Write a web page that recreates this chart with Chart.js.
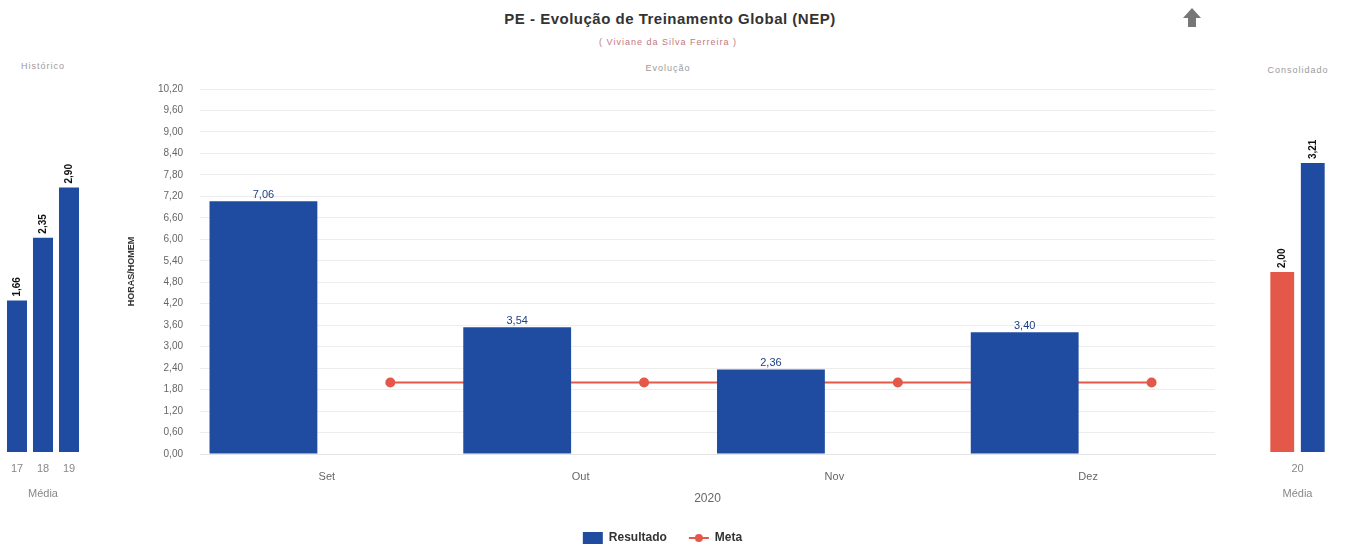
<!DOCTYPE html>
<html>
<head>
<meta charset="utf-8">
<script src="https://cdn.jsdelivr.net/npm/chart.js@4"></script>
<style>
  body { margin: 0; background: #fff; font-family: "Liberation Sans", Arial, sans-serif; }
  #page { position: relative; width: 1345px; height: 547px; overflow: hidden; }
  canvas { position: absolute; }
  .txt { position: absolute; transform: translate(-50%, -50%); white-space: nowrap; }
  #titulo { left: 670px; top: 18px; font-size: 15px; font-weight: bold; color: #333; letter-spacing: 0.5px; }
  #subtitulo { left: 668px; top: 42px; font-size: 9px; color: #c07880; letter-spacing: 1px; }
  .painel { font-size: 9px; color: #9a9a9a; letter-spacing: 1px; }
  #seta { position: absolute; left: 1183px; top: 8px; width: 18px; height: 20px; }
  #seta .ponta { width: 0; height: 0; border-left: 9px solid transparent; border-right: 9px solid transparent; border-bottom: 10px solid #777; }
  #seta .haste { margin-left: 5px; width: 8px; height: 9px; background: #777; }
</style>
</head>
<body>
<div id="page">
  <div class="txt" id="titulo">PE - Evolução de Treinamento Global (NEP)</div>
  <div class="txt" id="subtitulo">( Viviane da Silva Ferreira )</div>
  <div id="seta"><div class="ponta"></div><div class="haste"></div></div>
  <div class="txt painel" style="left:43px; top:66px;">Histórico</div>
  <div class="txt painel" style="left:668px; top:68px;">Evolução</div>
  <div class="txt painel" style="left:1298px; top:70px;">Consolidado</div>
  <canvas id="historico" width="90" height="405" style="left:0; top:100px;"></canvas>
  <canvas id="evolucao" width="1120" height="488" style="left:110px; top:66px;"></canvas>
  <canvas id="consolidado" width="100" height="405" style="left:1245px; top:100px;"></canvas>
</div>
<script>
// dados
const anosHistorico = ['17', '18', '19'];
const mediaHistorico = [1.66, 2.35, 2.90];

const meses = ['Set', 'Out', 'Nov', 'Dez'];
const resultado = [7.06, 3.54, 2.36, 3.40];
const meta = [2.00, 2.00, 2.00, 2.00];
const yTicks = [0, 0.6, 1.2, 1.8, 2.4, 3.0, 3.6, 4.2, 4.8, 5.4, 6.0, 6.6, 7.2, 7.8, 8.4, 9.0, 9.6, 10.2];

const anoConsolidado = ['20'];
const metaConsolidado = [2.00];
const resultadoConsolidado = [3.21];

const AZUL = 'rgb(31, 76, 160)';
const VERMELHO = 'rgb(228, 88, 74)';
const fonte = '"Liberation Sans", Arial, sans-serif';

const fmt = v => v.toFixed(2).replace('.', ',');

// rótulos de valor sobre as barras
const rotulosValor = {
  id: 'rotulosValor',
  afterDatasetsDraw(chart, args, opts) {
    const ctx = chart.ctx;
    chart.data.datasets.forEach((ds, i) => {
      if (ds.type === 'line') return;
      const m = chart.getDatasetMeta(i);
      m.data.forEach((bar, j) => {
        const v = ds.data[j];
        if (v == null) return;
        ctx.save();
        ctx.fillStyle = opts.color;
        ctx.font = opts.font;
        if (opts.girar) {
          ctx.translate(bar.x, bar.y - 4);
          ctx.rotate(-Math.PI / 2);
          ctx.textAlign = 'left';
          ctx.textBaseline = 'middle';
          ctx.fillText(fmt(v), 0, 0);
        } else {
          ctx.textAlign = 'center';
          ctx.textBaseline = 'bottom';
          ctx.fillText(fmt(v), bar.x, bar.y - 1);
        }
        ctx.restore();
      });
    });
  }
};

Chart.defaults.font.family = fonte;

function eixoMedia() {
  return {
    grid: { display: false, drawTicks: false },
    border: { display: false },
    ticks: { color: '#888', font: { size: 11 }, padding: 10 },
    title: { display: true, text: 'Média', color: '#888', font: { size: 11 } },
    afterFit: s => { s.height = 53; }
  };
}

// Histórico
new Chart(document.getElementById('historico'), {
  type: 'bar',
  data: {
    labels: anosHistorico,
    datasets: [{ label: 'Resultado', data: mediaHistorico, backgroundColor: AZUL,
      barPercentage: 0.77, categoryPercentage: 1 }]
  },
  options: {
    responsive: false, animation: false, devicePixelRatio: 1,
    layout: { padding: { top: 10, left: 4, right: 8, bottom: 0 } },
    scales: {
      x: eixoMedia(),
      y: { display: false, min: 0, max: 3.75 }
    },
    plugins: {
      legend: { display: false }, tooltip: { enabled: false },
      rotulosValor: { girar: true, color: '#111', font: 'bold 10px ' + fonte }
    }
  },
  plugins: [rotulosValor]
});

// Evolução: cada mês tem duas posições, barra à esquerda e meta à direita
const posicoes = meses.flatMap(m => [m + '-r', m + '-m']);
const dadosBarra = resultado.flatMap(v => [v, null]);
const dadosMeta = meta.flatMap(v => [null, v]);

const iconeMeta = document.createElement('canvas');
iconeMeta.width = 22; iconeMeta.height = 12;
(() => {
  const c = iconeMeta.getContext('2d');
  c.strokeStyle = VERMELHO; c.lineWidth = 2;
  c.beginPath(); c.moveTo(1, 6); c.lineTo(21, 6); c.stroke();
  c.fillStyle = VERMELHO;
  c.beginPath(); c.arc(11, 6, 4, 0, Math.PI * 2); c.fill();
})();

new Chart(document.getElementById('evolucao'), {
  type: 'bar',
  data: {
    labels: posicoes,
    datasets: [
      { label: 'Resultado', data: dadosBarra, backgroundColor: AZUL, xAxisID: 'x',
        barPercentage: 0.85, categoryPercentage: 1, skipNull: true, pointStyle: 'rect' },
      { type: 'line', label: 'Meta', data: dadosMeta, xAxisID: 'x', spanGaps: true,
        borderColor: VERMELHO, backgroundColor: VERMELHO, borderWidth: 2,
        pointRadius: 4, pointBackgroundColor: VERMELHO, pointBorderColor: VERMELHO }
    ]
  },
  options: {
    responsive: false, animation: false, devicePixelRatio: 1,
    layout: { padding: { top: 7, left: 0, right: 15, bottom: 0 } },
    scales: {
      x: { display: false, offset: true },
      xl: {
        type: 'category', labels: meses, position: 'bottom', offset: true,
        grid: { display: false, drawTicks: false },
        border: { display: true, color: '#e4e4e4' },
        ticks: { color: '#666', font: { size: 11 }, padding: 16 },
        title: { display: true, text: '2020', color: '#666', font: { size: 12 } },
        afterFit: s => { s.height = 56; }
      },
      y: {
        min: 0, max: 10.2,
        afterBuildTicks: s => { s.ticks = yTicks.map(v => ({ value: v })); },
        grid: { color: 'rgba(0,0,0,0.07)', drawTicks: false },
        border: { display: false },
        ticks: { color: '#666', font: { size: 10 }, padding: 17, callback: v => fmt(v) },
        title: { display: true, text: 'HORAS/HOMEM', color: '#333',
          font: { size: 9, weight: 'bold' }, padding: { top: 16, bottom: 0 } },
        afterFit: s => { s.width = 90; }
      }
    },
    plugins: {
      tooltip: { enabled: false },
      legend: {
        position: 'bottom',
        labels: {
          usePointStyle: true, pointStyleWidth: 20, boxHeight: 12, padding: 22,
          color: '#333', font: { size: 12, weight: 'bold' },
          generateLabels: chart => Chart.defaults.plugins.legend.labels.generateLabels(chart)
            .map(it => it.text === 'Meta' ? Object.assign(it, { pointStyle: iconeMeta }) : it)
        }
      },
      rotulosValor: { girar: false, color: '#1d3f85', font: '11px ' + fonte }
    }
  },
  plugins: [rotulosValor]
});

// Consolidado
new Chart(document.getElementById('consolidado'), {
  type: 'bar',
  data: {
    labels: anoConsolidado,
    datasets: [
      { label: 'Meta', data: metaConsolidado, backgroundColor: VERMELHO,
        barPercentage: 0.78, categoryPercentage: 0.86 },
      { label: 'Resultado', data: resultadoConsolidado, backgroundColor: AZUL,
        barPercentage: 0.78, categoryPercentage: 0.86 }
    ]
  },
  options: {
    responsive: false, animation: false, devicePixelRatio: 1,
    layout: { padding: { top: 10, left: 17, right: 12, bottom: 0 } },
    scales: {
      x: eixoMedia(),
      y: { display: false, min: 0, max: 3.8 }
    },
    plugins: {
      legend: { display: false }, tooltip: { enabled: false },
      rotulosValor: { girar: true, color: '#111', font: 'bold 10px ' + fonte }
    }
  },
  plugins: [rotulosValor]
});
</script>
</body>
</html>
